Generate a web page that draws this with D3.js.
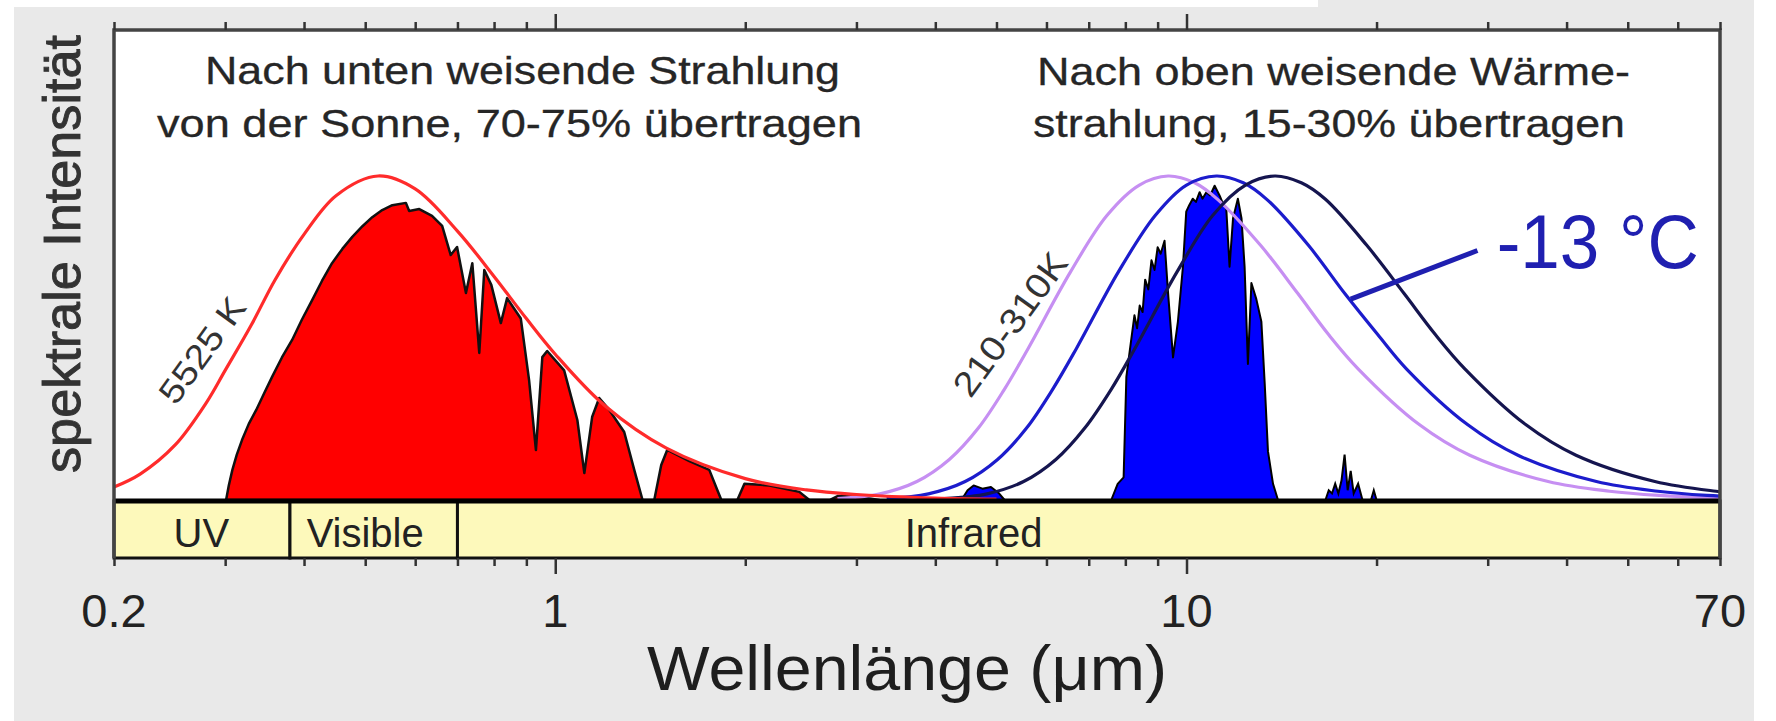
<!DOCTYPE html>
<html>
<head>
<meta charset="utf-8">
<script src="https://cdn.jsdelivr.net/npm/d3@7"></script>
<style>
  body { margin: 0; background: #fff; }
  svg { display: block; }
  text { font-family: "Liberation Sans", Arial, sans-serif; }
</style>
</head>
<body>
<svg width="1776" height="721"></svg>
<script>
// ****** Data ******
// wavelength in micrometres, intensity normalised to the common peak height
var sunCurveWl  = [0.2, 0.22, 0.25, 0.28, 0.3, 0.33, 0.36, 0.4, 0.45, 0.524, 0.6, 0.7, 0.8, 0.9, 1.0, 1.2, 1.5, 2.0, 2.5, 3.0, 4.0, 5.0];
var sunCurveVal = [0.04, 0.08, 0.17, 0.30, 0.40, 0.54, 0.68, 0.82, 0.94, 1.0, 0.96, 0.83, 0.69, 0.56, 0.45, 0.29, 0.16, 0.066, 0.031, 0.017, 0.006, 0.003];

// the three earth curves share the same height profile
var earthVal = [0.004, 0.019, 0.057, 0.125, 0.222, 0.340, 0.467, 0.704, 0.878, 0.972, 1.0, 0.979, 0.928, 0.786, 0.638, 0.510, 0.405, 0.232, 0.138, 0.057, 0.027, 0.014, 0.008, 0.005];
var warmWl = [2.8, 3.27, 3.74, 4.21, 4.68, 5.14, 5.61, 6.55, 7.48, 8.42, 9.35, 10.3, 11.2, 13.1, 15.0, 16.8, 18.7, 23.4, 28.1, 37.4, 46.8, 56.1, 65.5, 74.8];
var midWl  = [3.35, 3.9, 4.46, 5.02, 5.58, 6.13, 6.69, 7.8, 8.92, 10.0, 11.15, 12.3, 13.4, 15.6, 17.8, 20.1, 22.3, 27.9, 33.5, 44.6, 55.8, 66.9, 78.1, 89.2];
var coldWl = [4.14, 4.83, 5.52, 6.21, 6.9, 7.59, 8.28, 9.66, 11.0, 12.4, 13.8, 15.2, 16.6, 19.3, 22.1, 24.8, 27.6, 34.5, 41.4, 55.2, 69.0, 82.8, 96.6, 110];

// transmitted sunlight (red area)
var solarWl  = [0.301, 0.304, 0.308, 0.313, 0.319, 0.327, 0.336, 0.346, 0.356, 0.369, 0.383, 0.397, 0.412, 0.427, 0.443, 0.46, 0.477, 0.495, 0.513, 0.532, 0.552,
                0.580, 0.587, 0.609, 0.638, 0.662, 0.683, 0.699, 0.722, 0.739, 0.758, 0.772, 0.792, 0.820, 0.839, 0.882, 0.909, 0.932, 0.954, 0.971,
                1.033, 1.084, 1.112, 1.144, 1.174, 1.218, 1.286, 1.334, 1.375, 1.435, 1.472, 1.505, 1.631, 1.754, 1.806, 1.833, 1.943, 1.994, 2.184,
                2.436, 2.527, 2.72, 2.80, 3.03, 3.26];
var solarVal = [0, 0.045, 0.093, 0.14, 0.185, 0.235, 0.278, 0.33, 0.380, 0.44, 0.494, 0.557, 0.617, 0.676, 0.731, 0.775, 0.812, 0.845, 0.873, 0.895, 0.910,
                0.917, 0.892, 0.898, 0.877, 0.846, 0.756, 0.781, 0.639, 0.731, 0.454, 0.710, 0.664, 0.546, 0.623, 0.56, 0.370, 0.154, 0.441, 0.46,
                0.40, 0.247, 0.083, 0.256, 0.315, 0.278, 0.21, 0.093, 0, 0, 0.108, 0.155, 0.12, 0.093, 0.031, 0, 0, 0.05, 0.045,
                0.025, 0, 0, 0.012, 0.01, 0];

// transmitted thermal radiation (blue area)
var atmWl  = [4.4, 4.5, 4.6, 4.75, 4.9, 5.05, 5.15,
              7.6, 7.78, 7.95, 8.03, 8.13, 8.27, 8.35, 8.43, 8.52, 8.6, 8.7, 8.8, 8.9, 9.0, 9.1, 9.23, 9.34, 9.52, 9.69, 9.87,
              9.99, 10.1, 10.23, 10.35, 10.49, 10.6, 10.75, 10.9, 11.08, 11.28, 11.45, 11.56, 11.7, 11.85, 12.06, 12.22, 12.36,
              12.51, 12.67, 12.9, 13.14, 13.3, 13.46, 13.71, 13.96];
var atmVal = [0, 0.03, 0.045, 0.035, 0.04, 0.02, 0,
              0, 0.05, 0.07, 0.38, 0.46, 0.57, 0.53, 0.6, 0.58, 0.68, 0.65, 0.74, 0.71, 0.78, 0.76, 0.8, 0.65, 0.44, 0.55, 0.72,
              0.89, 0.91, 0.93, 0.92, 0.95, 0.93, 0.95, 0.94, 0.97, 0.94, 0.91, 0.9, 0.72, 0.87, 0.93, 0.87, 0.72,
              0.42, 0.67, 0.62, 0.55, 0.36, 0.15, 0.05, 0];
var spikeWl  = [16.6, 16.8, 17.0, 17.2, 17.4, 17.6, 17.8, 18.0, 18.2, 18.4, 18.7, 19.0, 19.6, 19.8, 20.0];
var spikeVal = [0, 0.03, 0.02, 0.05, 0.02, 0.06, 0.14, 0.03, 0.09, 0.02, 0.05, 0, 0, 0.03, 0];

// bands under the plot
var bandEdges  = [0.2, 0.38, 0.7, 70];
var bandNames  = ["UV", "Visible", "Infrared"];
var bandLabelAt = [0.275, 0.5, 4.6];

// axis ticks
var minorTicks = [0.2, 0.3, 0.4, 0.5, 0.6, 0.7, 0.8, 0.9, 2, 3, 4, 5, 6, 7, 8, 9, 20, 30, 40, 50, 60, 70];
var majorTicks = [1, 10];
var tickLabels = [0.2, 1, 10, 70];

var svg = d3.select("svg");
var plotLeft = 114, plotRight = 1720, plotTop = 30, base = 500, bandBot = 558;

var x = d3.scaleLog().domain([0.2, 70]).range([plotLeft, plotRight]);
var y = d3.scaleLinear().domain([0, 1]).range([base, 176]);

function zip(wl, v) {
    if (wl.length != v.length) console.warn("length mismatch", wl.length, v.length);
    return wl.map(function(w, i) { return [w, v[i]]; });
}

// ****** Background ******
svg.append("rect").attr("x", 14).attr("y", 7).attr("width", 1740).attr("height", 714).attr("fill", "#e9e9e9");
svg.append("rect").attr("x", 1318).attr("y", 0).attr("width", 436).attr("height", 8).attr("fill", "#e9e9e9");
svg.append("rect").attr("x", plotLeft).attr("y", plotTop).attr("width", plotRight - plotLeft).attr("height", base - plotTop + 2).attr("fill", "#fff");

svg.append("defs").append("clipPath").attr("id", "plot")
    .append("rect").attr("x", plotLeft).attr("y", plotTop).attr("width", plotRight - plotLeft).attr("height", base - plotTop + 2);

var g = svg.append("g").attr("clip-path", "url(#plot)");

var area = d3.area().x(d => x(d[0])).y0(y(0)).y1(d => y(d[1])).curve(d3.curveLinear);
var line = d3.line().x(d => x(d[0])).y(d => y(d[1])).curve(d3.curveCatmullRom.alpha(0.5));

// ****** Filled spectra ******
g.append("path").attr("d", area(zip(solarWl, solarVal)))
    .attr("fill", "#ff0000").attr("stroke", "#111").attr("stroke-width", 2.5).attr("stroke-linejoin", "round");
g.append("path").attr("d", area(zip(atmWl, atmVal)))
    .attr("fill", "#0000ff").attr("stroke", "#000").attr("stroke-width", 2).attr("stroke-linejoin", "round");
g.append("path").attr("d", area(zip(spikeWl, spikeVal)))
    .attr("fill", "#0000ff").attr("stroke", "#000").attr("stroke-width", 2);

// ****** Black body curves ******
var curves = [
    {wl: warmWl, val: earthVal, color: "#c68ff2"},
    {wl: midWl,  val: earthVal, color: "#1c1ccc"},
    {wl: coldWl, val: earthVal, color: "#15154f"},
    {wl: sunCurveWl, val: sunCurveVal, color: "#ff2b2b"}
];
g.selectAll("path.bb").data(curves).join("path").attr("class", "bb")
    .attr("d", d => line(zip(d.wl, d.val)))
    .attr("fill", "none").attr("stroke", d => d.color).attr("stroke-width", 3.2);

// ****** Bands ******
var bandTop = base + 1;
svg.append("g").selectAll("rect").data(bandNames).join("rect")
    .attr("x", (d, i) => x(bandEdges[i]))
    .attr("width", (d, i) => x(bandEdges[i + 1]) - x(bandEdges[i]))
    .attr("y", bandTop).attr("height", bandBot - bandTop)
    .attr("fill", "#fdf9bb").attr("stroke", "#111").attr("stroke-width", 3);
svg.append("line").attr("x1", plotLeft).attr("x2", plotRight).attr("y1", bandTop).attr("y2", bandTop)
    .attr("stroke", "#000").attr("stroke-width", 5);
svg.append("g").selectAll("text").data(bandNames).join("text")
    .attr("x", (d, i) => x(bandLabelAt[i])).attr("y", 547)
    .attr("text-anchor", "middle").attr("font-size", 40).attr("fill", "#222")
    .text(d => d);

// ****** Frame and axes ******
svg.append("path")
    .attr("d", "M" + plotLeft + "," + bandBot + "V" + plotTop + "H" + plotRight + "V" + bandBot)
    .attr("fill", "none").attr("stroke", "#444").attr("stroke-width", 3.5);

function styleAxis(sel) {
    sel.select(".domain").remove();
    sel.selectAll(".tick line").attr("stroke", "#333").attr("stroke-width", 2.5);
}
svg.append("g").attr("transform", "translate(0," + bandBot + ")")
    .call(d3.axisBottom(x).tickValues(minorTicks).tickSize(8).tickFormat("")).call(styleAxis);
svg.append("g").attr("transform", "translate(0," + bandBot + ")")
    .call(d3.axisBottom(x).tickValues(majorTicks).tickSize(16).tickFormat("")).call(styleAxis);
svg.append("g").attr("transform", "translate(0," + plotTop + ")")
    .call(d3.axisTop(x).tickValues(minorTicks).tickSize(8).tickFormat("")).call(styleAxis);
svg.append("g").attr("transform", "translate(0," + plotTop + ")")
    .call(d3.axisTop(x).tickValues(majorTicks).tickSize(16).tickFormat("")).call(styleAxis);

svg.append("g").selectAll("text").data(tickLabels).join("text")
    .attr("x", d => x(d)).attr("y", 627)
    .attr("text-anchor", "middle").attr("font-size", 47).attr("fill", "#222")
    .text(d => d);

svg.append("text").attr("x", 647).attr("y", 690)
    .attr("font-size", 63).attr("fill", "#1e1e1e")
    .attr("textLength", 520).attr("lengthAdjust", "spacingAndGlyphs")
    .text("Wellenlänge (μm)");

svg.append("text").attr("transform", "translate(80,254) rotate(-90)")
    .attr("text-anchor", "middle").attr("font-size", 52).attr("fill", "#333")
    .attr("stroke", "#333").attr("stroke-width", 0.9)
    .attr("textLength", 438).attr("lengthAdjust", "spacingAndGlyphs")
    .text("spektrale Intensität");

// ****** Titles ******
var titles = [
    {t: "Nach unten weisende Strahlung",     x: 205,  y: 84,  w: 635},
    {t: "von der Sonne, 70-75% übertragen",  x: 157,  y: 137, w: 705},
    {t: "Nach oben weisende Wärme-",         x: 1037, y: 85,  w: 593},
    {t: "strahlung, 15-30% übertragen",      x: 1033, y: 137, w: 592}
];
svg.append("g").selectAll("text").data(titles).join("text")
    .attr("x", d => d.x).attr("y", d => d.y)
    .attr("font-size", 39).attr("fill", "#262626")
    .attr("stroke", "#262626").attr("stroke-width", 0.3)
    .attr("textLength", d => d.w).attr("lengthAdjust", "spacingAndGlyphs")
    .text(d => d.t);

// ****** Curve labels ******
svg.append("text")
    .attr("transform", "translate(" + x(0.2757) + "," + y(0.463) + ") rotate(-54)")
    .attr("text-anchor", "middle").attr("dominant-baseline", "central")
    .attr("font-size", 34).attr("fill", "#333")
    .attr("textLength", 122).attr("lengthAdjust", "spacingAndGlyphs")
    .text("5525 K");
svg.append("text")
    .attr("transform", "translate(" + x(5.25) + "," + y(0.543) + ") rotate(-54)")
    .attr("text-anchor", "middle").attr("dominant-baseline", "central")
    .attr("font-size", 35).attr("fill", "#333")
    .attr("textLength", 168).attr("lengthAdjust", "spacingAndGlyphs")
    .text("210-310K");

// callout for the -13 °C curve
svg.append("line")
    .attr("x1", x(28.9)).attr("y1", y(0.77))
    .attr("x2", x(18.2)).attr("y2", y(0.62))
    .attr("stroke", "#1f1fb0").attr("stroke-width", 5);
svg.append("text").attr("x", x(31)).attr("y", y(0.716))
    .attr("font-family", "'Open Sans', 'Noto Sans', sans-serif")
    .attr("font-size", 76).attr("fill", "#1f1fb0")
    .attr("textLength", 202).attr("lengthAdjust", "spacingAndGlyphs")
    .text("-13 °C");
</script>
</body>
</html>
